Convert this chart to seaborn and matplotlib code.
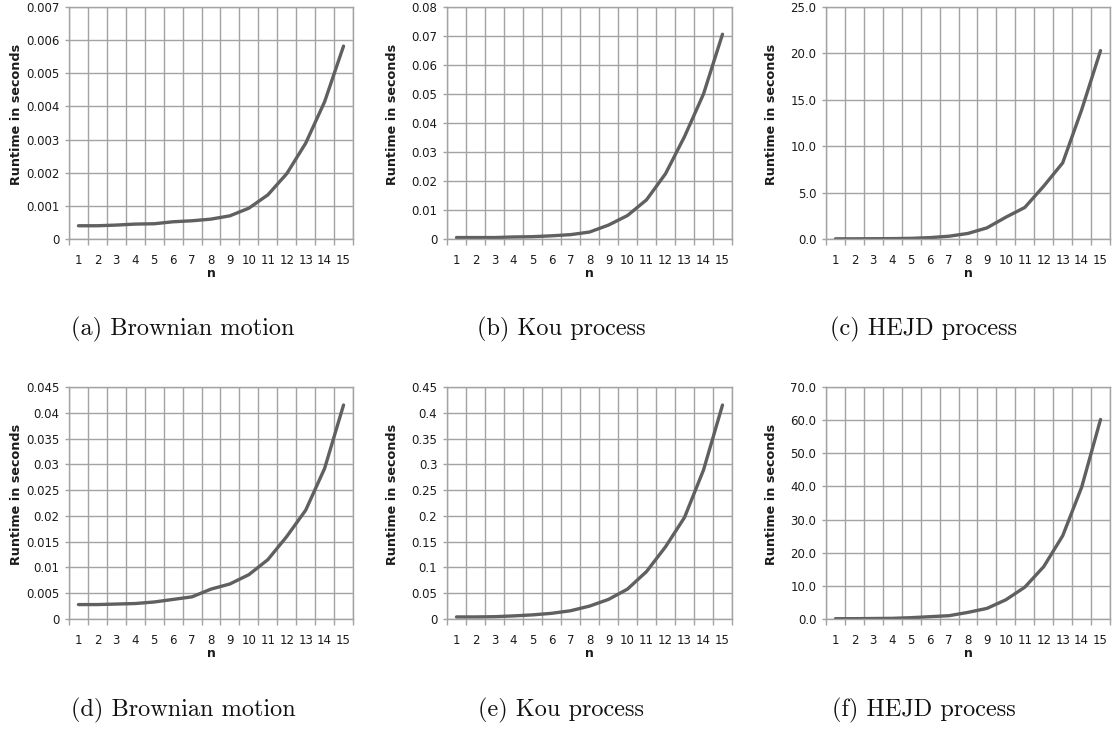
import numpy as np
import pandas as pd
import matplotlib
matplotlib.use("Agg")
import matplotlib.pyplot as plt
import seaborn as sns
from matplotlib.ticker import FixedLocator, FixedFormatter

sns.set_style("white")
plt.rcParams['font.family'] = ['DejaVu Sans']

n_values = list(range(1, 16))

brownian_a = [0.0004, 0.0004, 0.00042, 0.00045, 0.00046, 0.00052, 0.00055, 0.0006,
              0.0007, 0.00093, 0.00133, 0.00197, 0.00289, 0.00414, 0.00582]
kou_b = [0.0005, 0.0005, 0.0005, 0.0007, 0.0008, 0.0011, 0.0015, 0.0024,
         0.0048, 0.0081, 0.0135, 0.0225, 0.0353, 0.0500, 0.0706]
hejd_c = [0.02, 0.02, 0.03, 0.04, 0.07, 0.15, 0.3, 0.6,
          1.2, 2.35, 3.4, 5.7, 8.2, 13.9, 20.3]
brownian_d = [0.0028, 0.0028, 0.0029, 0.0030, 0.0033, 0.0038, 0.0043, 0.0058,
              0.0068, 0.0086, 0.0115, 0.0160, 0.0211, 0.0292, 0.0415]
kou_e = [0.004, 0.004, 0.0045, 0.006, 0.008, 0.011, 0.016, 0.025,
         0.038, 0.058, 0.092, 0.140, 0.197, 0.289, 0.415]
hejd_f = [0.1, 0.1, 0.15, 0.2, 0.4, 0.7, 1.0, 2.0,
          3.2, 5.8, 9.6, 15.8, 25.1, 39.7, 60.2]

ytick_a = ["0", "0.001", "0.002", "0.003", "0.004", "0.005", "0.006", "0.007"]
ytick_b = ["0", "0.01", "0.02", "0.03", "0.04", "0.05", "0.06", "0.07", "0.08"]
ytick_c = ["0.0", "5.0", "10.0", "15.0", "20.0", "25.0"]
ytick_d = ["0", "0.005", "0.01", "0.015", "0.02", "0.025", "0.03", "0.035", "0.04", "0.045"]
ytick_e = ["0", "0.05", "0.1", "0.15", "0.2", "0.25", "0.3", "0.35", "0.4", "0.45"]
ytick_f = ["0.0", "10.0", "20.0", "30.0", "40.0", "50.0", "60.0", "70.0"]

captions = ["(a) Brownian motion", "(b) Kou process", "(c) HEJD process",
            "(d) Brownian motion", "(e) Kou process", "(f) HEJD process"]

panels = [(brownian_a, ytick_a), (kou_b, ytick_b), (hejd_c, ytick_c),
          (brownian_d, ytick_d), (kou_e, ytick_e), (hejd_f, ytick_f)]

W, H = 1113, 729
fig = plt.figure(figsize=(W / 100, H / 100), dpi=100)

lefts = [69, 447, 826]
widths = [284, 285, 284]
label_right = [23, 399, 778]
tops = [7, 387]
ph = 232
cap_x = [183, 561, 924]
cap_y = [329, 710]

grid_col = "#a3a3a3"
line_col = "#606060"
text_col = "#1a1a1a"

for i, (vals, yt) in enumerate(panels):
    r, c = divmod(i, 3)
    ax = fig.add_axes([lefts[c] / W, 1 - (tops[r] + ph) / H, widths[c] / W, ph / H])
    df = pd.DataFrame({"n": n_values, "runtime": vals})
    sns.lineplot(data=df, x="n", y="runtime", ax=ax, color=line_col, linewidth=2.4)
    yvals = [float(s) for s in yt]
    ax.set_ylim(0, yvals[-1])
    ax.set_xlim(0.5, 15.5)
    ax.yaxis.set_major_locator(FixedLocator(yvals))
    ax.yaxis.set_major_formatter(FixedFormatter(yt))
    ax.xaxis.set_major_locator(FixedLocator(n_values))
    ax.xaxis.set_major_formatter(FixedFormatter([str(v) for v in n_values]))
    ax.xaxis.set_minor_locator(FixedLocator([v + 0.5 for v in range(0, 16)]))
    ax.grid(False)
    ax.grid(True, axis="y", which="major", color=grid_col, linewidth=1.0)
    ax.grid(True, axis="x", which="minor", color=grid_col, linewidth=1.0)
    ax.set_axisbelow(True)
    ax.tick_params(axis="x", which="major", length=0, pad=11, labelsize=8.5, labelcolor=text_col)
    ax.tick_params(axis="x", which="minor", length=4, color=grid_col, width=1.0, bottom=True)
    ax.tick_params(axis="y", which="major", length=3, color=grid_col, width=1.0, left=True,
                   pad=4, labelsize=8.5, labelcolor=text_col)
    for s in ax.spines.values():
        s.set_color(grid_col)
        s.set_linewidth(1.0)
    ax.set_xlabel("n", fontsize=9, fontweight="bold", color=text_col, labelpad=0)
    ax.set_ylabel("Runtime in seconds", fontsize=9.2, fontweight="bold", color=text_col)
    ax.yaxis.set_label_coords(-(lefts[c] - label_right[c]) / widths[c], 0.535)
    fig.text(cap_x[c] / W, 1 - cap_y[r] / H, captions[i], family="cmr10", fontsize=17.5,
             ha="center", va="center", color="#111111")

fig.savefig("out.png", dpi=100)
